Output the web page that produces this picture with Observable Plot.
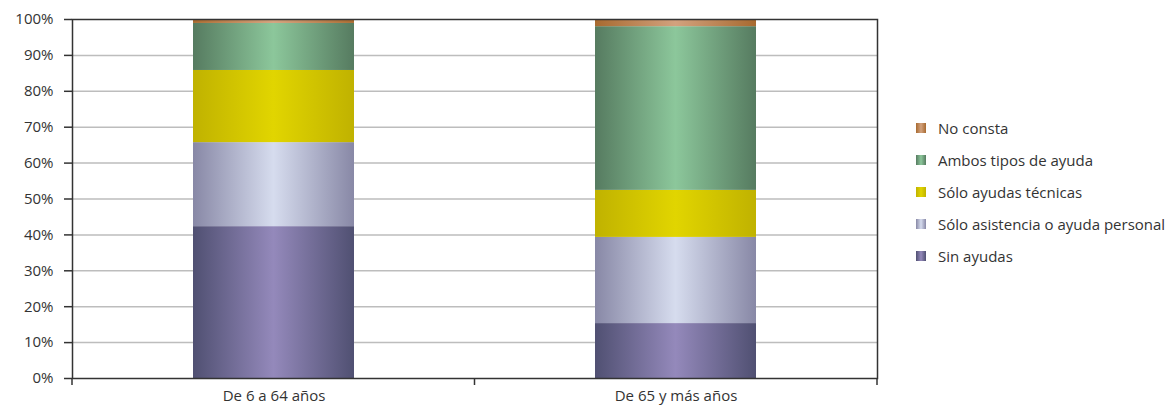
<!DOCTYPE html>
<html>
<head>
<meta charset="utf-8">
<script src="https://cdn.jsdelivr.net/npm/d3@7"></script>
<script src="https://cdn.jsdelivr.net/npm/@observablehq/plot@0.6"></script>
<style>
  html, body { margin: 0; padding: 0; background: #fff; }
  #wrap { position: relative; width: 1170px; height: 407px; font-family: "Open Sans", sans-serif; }
  #legend { position: absolute; left: 916px; top: 112px; font-size: 15px; color: #333; white-space: nowrap; }
  .item { display: flex; align-items: center; height: 32px; }
  .sw { width: 10px; height: 10px; margin-right: 12px; flex: none; }
</style>
</head>
<body>
<div id="wrap"><div id="legend"></div></div>
<script>
const categories = ["De 6 a 64 años", "De 65 y más años"];
const series = ["Sin ayudas", "Sólo asistencia o ayuda personal", "Sólo ayudas técnicas", "Ambos tipos de ayuda", "No consta"];
const values6to64 = [42.3, 23.4, 20.1, 13.1, 1.1];
const values65plus = [15.3, 24.0, 13.1, 45.6, 2.0];
const yTicks = [0, 10, 20, 30, 40, 50, 60, 70, 80, 90, 100];
const edgeColors = ["#505072", "#8888a6", "#c0b200", "#567b60", "#a86a30"];
const centerColors = ["#9489bb", "#d6dcee", "#e1d500", "#8cc79b", "#d2a27e"];

const valuesByCategory = [values6to64, values65plus];
const data = categories.flatMap((c, i) => series.map((s, j) => ({cat: c, series: s, value: valuesByCategory[i][j]})));
const gradIds = series.map((_, i) => `grad${i}`);

function boundaryTicks(index, scales, values, dims) {
  const g = d3.create("svg:g");
  const left = dims.marginLeft, right = dims.width - dims.marginRight;
  const bottom = dims.height - dims.marginBottom;
  const n = categories.length;
  const step = (right - left) / n;
  for (let i = 0; i <= n; i++) {
    const x = left + i * step;
    g.append("line").attr("x1", x).attr("x2", x).attr("y1", bottom).attr("y2", bottom + 7)
      .attr("stroke", "#333").attr("stroke-width", 1.5);
  }
  return g.node();
}

const chart = Plot.plot({
  width: 1170,
  height: 407,
  marginLeft: 72,
  marginRight: 293,
  marginTop: 19,
  marginBottom: 29,
  style: {fontFamily: "Open Sans, sans-serif", fontSize: "15px", color: "#333", background: "transparent"},
  x: {domain: categories, paddingInner: 0.6, paddingOuter: 0.3, label: null},
  y: {domain: [0, 100], label: null},
  color: {domain: series, range: gradIds.map(id => `url(#${id})`)},
  marks: [
    Plot.gridY(yTicks.filter(d => d > 0 && d < 100), {stroke: "#bdbdbd", strokeWidth: 1.5, strokeOpacity: 1}),
    Plot.barY(data, {x: "cat", y: "value", fill: "series", order: series}),
    Plot.frame({stroke: "#333", strokeWidth: 1.5}),
    Plot.axisY(yTicks, {tickSize: 8, tickPadding: 11, tickFormat: d => d + "%", stroke: "#333", strokeWidth: 1.5, fontSize: 15, fill: "#333"}),
    Plot.axisX({tickSize: 0, tickPadding: 12, fontSize: 15, fill: "#333"}),
    boundaryTicks
  ]
});

const defs = d3.create("svg:defs");
series.forEach((s, i) => {
  const lg = defs.append("linearGradient").attr("id", gradIds[i]).attr("x1", "0").attr("x2", "1").attr("y1", "0").attr("y2", "0");
  lg.append("stop").attr("offset", "0%").attr("stop-color", edgeColors[i]);
  lg.append("stop").attr("offset", "50%").attr("stop-color", centerColors[i]);
  lg.append("stop").attr("offset", "100%").attr("stop-color", edgeColors[i]);
});
chart.insertBefore(defs.node(), chart.firstChild);

const wrap = document.getElementById("wrap");
wrap.insertBefore(chart, wrap.firstChild);

const legend = d3.select("#legend");
series.slice().reverse().forEach(s => {
  const i = series.indexOf(s);
  const item = legend.append("div").attr("class", "item");
  item.append("div").attr("class", "sw")
    .style("background", `linear-gradient(to right, ${edgeColors[i]}, ${centerColors[i]}, ${edgeColors[i]})`);
  item.append("span").text(s);
});
</script>
</body>
</html>
